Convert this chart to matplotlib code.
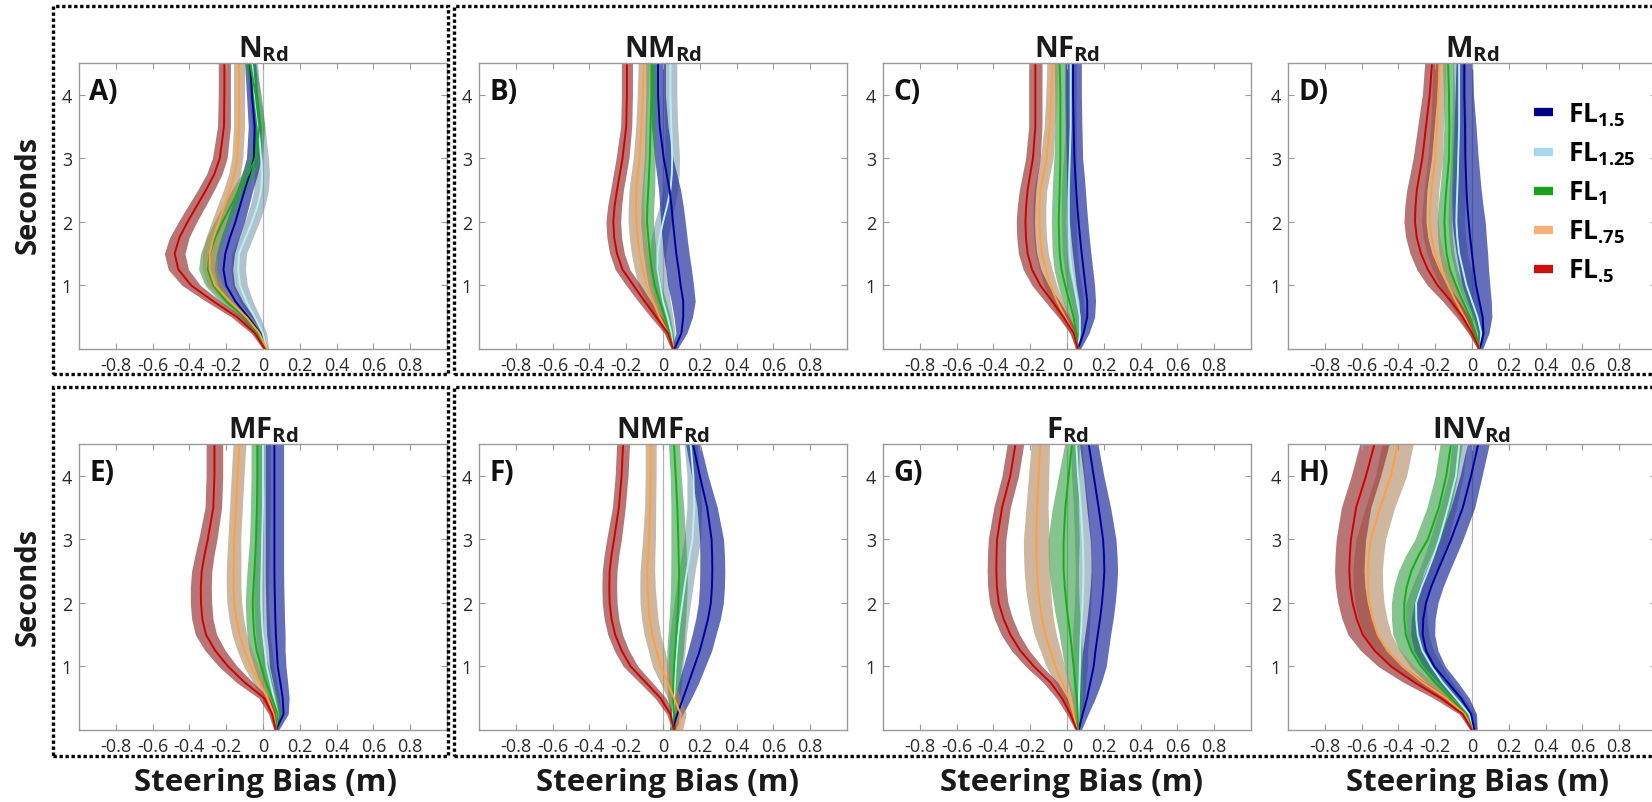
import matplotlib
matplotlib.use('Agg')
import matplotlib.pyplot as plt
from matplotlib.patches import Rectangle
from matplotlib.lines import Line2D
import numpy as np

plt.rcParams['font.family'] = ['Open Sans', 'DejaVu Sans']
plt.rcParams['mathtext.fontset'] = 'custom'
plt.rcParams['mathtext.rm'] = 'Open Sans'
plt.rcParams['mathtext.bf'] = 'Open Sans:bold'
plt.rcParams['mathtext.it'] = 'Open Sans:italic'

# ---------------- data ----------------
seconds = [0, 0.25, 0.5, 0.75, 1, 1.25, 1.5, 1.75, 2, 2.25, 2.5, 2.75, 3, 3.5, 4, 4.5]
series = ['1.5', '1.25', '1', '.75', '.5']
panel_titles = ['N', 'NM', 'NF', 'M', 'MF', 'NMF', 'F', 'INV']
panel_letters = ['A)', 'B)', 'C)', 'D)', 'E)', 'F)', 'G)', 'H)']
xticks = [-0.8, -0.6, -0.4, -0.2, 0, 0.2, 0.4, 0.6, 0.8]
xticklabels = ['-0.8', '-0.6', '-0.4', '-0.2', '0', '0.2', '0.4', '0.6', '0.8']
yticks = [1, 2, 3, 4]
yticklabels = ['1', '2', '3', '4']

# mean steering bias per feedback level (m)
N_mean = {
    '1.5':  [0.01, -0.015, -0.08, -0.15, -0.20, -0.215, -0.205, -0.18, -0.15, -0.125, -0.10, -0.072, -0.05, -0.045, -0.06, -0.07],
    '1.25': [0.02, 0.0, -0.045, -0.09, -0.125, -0.135, -0.13, -0.095, -0.06, -0.03, -0.01, -0.005, -0.01, -0.025, -0.045, -0.06],
    '1':    [0.01, -0.03, -0.10, -0.20, -0.27, -0.30, -0.29, -0.26, -0.22, -0.175, -0.13, -0.08, -0.04, -0.02, -0.04, -0.07],
    '.75':  [0.02, -0.02, -0.09, -0.18, -0.26, -0.29, -0.29, -0.27, -0.24, -0.21, -0.18, -0.155, -0.14, -0.13, -0.13, -0.13],
    '.5':   [0.01, -0.045, -0.14, -0.27, -0.39, -0.46, -0.48, -0.455, -0.41, -0.36, -0.31, -0.265, -0.235, -0.212, -0.21, -0.21],
}
NM_mean = {
    '1.5':  [0.063, 0.10, 0.11, 0.11, 0.096, 0.085, 0.072, 0.063, 0.054, 0.046, 0.036, 0.02, 0.004, -0.018, -0.027, -0.027],
    '1.25': [0.055, 0.045, 0.025, 0.0, -0.015, -0.03, -0.03, -0.018, 0.0, 0.022, 0.04, 0.048, 0.05, 0.045, 0.04, 0.04],
    '1':    [0.055, 0.035, 0.01, -0.018, -0.045, -0.06, -0.072, -0.08, -0.087, -0.085, -0.08, -0.076, -0.072, -0.068, -0.063, -0.063],
    '.75':  [0.055, 0.027, -0.018, -0.054, -0.09, -0.11, -0.127, -0.138, -0.145, -0.147, -0.145, -0.137, -0.127, -0.118, -0.11, -0.105],
    '.5':   [0.055, 0.027, -0.036, -0.10, -0.16, -0.22, -0.25, -0.265, -0.27, -0.263, -0.25, -0.235, -0.22, -0.20, -0.196, -0.196],
}
NF_mean = {
    '1.5':  [0.058, 0.09, 0.11, 0.11, 0.10, 0.09, 0.08, 0.071, 0.063, 0.056, 0.05, 0.045, 0.04, 0.036, 0.033, 0.033],
    '1.25': [0.06, 0.07, 0.07, 0.055, 0.04, 0.025, 0.015, 0.012, 0.01, 0.01, 0.01, 0.012, 0.015, 0.02, 0.02, 0.02],
    '1':    [0.058, 0.05, 0.036, 0.013, -0.01, -0.03, -0.04, -0.043, -0.045, -0.043, -0.04, -0.038, -0.036, -0.036, -0.036, -0.04],
    '.75':  [0.058, 0.036, -0.01, -0.054, -0.09, -0.115, -0.136, -0.146, -0.15, -0.15, -0.145, -0.128, -0.11, -0.094, -0.085, -0.08],
    '.5':   [0.058, 0.036, -0.018, -0.08, -0.145, -0.19, -0.214, -0.223, -0.226, -0.222, -0.214, -0.2, -0.185, -0.172, -0.172, -0.172],
}
M_mean = {
    '1.5':  [0.043, 0.062, 0.058, 0.04, 0.022, 0.01, 0.0, -0.01, -0.018, -0.025, -0.03, -0.033, -0.036, -0.038, -0.042, -0.042],
    '1.25': [0.045, 0.05, 0.03, 0.0, -0.03, -0.05, -0.07, -0.08, -0.085, -0.083, -0.08, -0.077, -0.075, -0.07, -0.07, -0.07],
    '1':    [0.04, 0.02, -0.01, -0.05, -0.087, -0.12, -0.138, -0.146, -0.15, -0.146, -0.14, -0.132, -0.125, -0.123, -0.125, -0.13],
    '.75':  [0.04, 0.0, -0.04, -0.087, -0.13, -0.17, -0.20, -0.22, -0.23, -0.227, -0.22, -0.21, -0.20, -0.19, -0.183, -0.177],
    '.5':   [0.04, 0.0, -0.05, -0.114, -0.187, -0.24, -0.277, -0.30, -0.31, -0.307, -0.30, -0.285, -0.27, -0.25, -0.23, -0.217],
}
MF_mean = {
    '1.5':  [0.07, 0.112, 0.107, 0.094, 0.08, 0.075, 0.07, 0.067, 0.065, 0.063, 0.062, 0.062, 0.062, 0.062, 0.062, 0.062],
    '1.25': [0.07, 0.08, 0.06, 0.04, 0.02, 0.01, 0.0, -0.006, -0.01, -0.01, -0.008, -0.006, -0.005, 0.0, 0.0, 0.0],
    '1':    [0.07, 0.08, 0.05, 0.016, -0.01, -0.035, -0.047, -0.053, -0.056, -0.052, -0.047, -0.042, -0.038, -0.033, -0.03, -0.03],
    '.75':  [0.07, 0.058, 0.025, -0.02, -0.065, -0.10, -0.128, -0.145, -0.156, -0.16, -0.16, -0.158, -0.156, -0.147, -0.138, -0.128],
    '.5':   [0.07, 0.05, 0.007, -0.10, -0.19, -0.26, -0.31, -0.33, -0.337, -0.338, -0.333, -0.318, -0.30, -0.27, -0.264, -0.264],
}
NMF_mean = {
    '1.5':  [0.05, 0.078, 0.109, 0.14, 0.17, 0.20, 0.223, 0.245, 0.26, 0.266, 0.268, 0.267, 0.264, 0.24, 0.20, 0.163],
    '1.25': [0.05, 0.055, 0.06, 0.065, 0.069, 0.075, 0.083, 0.093, 0.105, 0.117, 0.13, 0.145, 0.16, 0.17, 0.165, 0.15],
    '1':    [0.05, 0.06, 0.054, 0.056, 0.06, 0.066, 0.072, 0.078, 0.083, 0.086, 0.087, 0.085, 0.083, 0.078, 0.069, 0.06],
    '.75':  [0.087, 0.096, 0.06, 0.024, -0.013, -0.035, -0.058, -0.072, -0.08, -0.084, -0.085, -0.081, -0.076, -0.07, -0.067, -0.067],
    '.5':   [0.06, 0.04, -0.013, -0.094, -0.176, -0.225, -0.26, -0.28, -0.29, -0.292, -0.29, -0.28, -0.266, -0.24, -0.225, -0.217],
}
F_mean = {
    '1.5':  [0.063, 0.085, 0.109, 0.127, 0.145, 0.155, 0.167, 0.18, 0.19, 0.198, 0.203, 0.201, 0.196, 0.172, 0.145, 0.118],
    '1.25': [0.06, 0.063, 0.065, 0.068, 0.07, 0.072, 0.075, 0.08, 0.085, 0.088, 0.09, 0.088, 0.085, 0.075, 0.06, 0.05],
    '1':    [0.06, 0.058, 0.054, 0.045, 0.036, 0.027, 0.018, 0.006, -0.004, -0.012, -0.018, -0.019, -0.018, -0.009, 0.009, 0.027],
    '.75':  [0.054, 0.036, 0.009, -0.027, -0.063, -0.09, -0.118, -0.136, -0.149, -0.158, -0.163, -0.166, -0.167, -0.163, -0.154, -0.145],
    '.5':   [0.054, 0.018, -0.027, -0.09, -0.18, -0.254, -0.308, -0.345, -0.371, -0.381, -0.384, -0.383, -0.38, -0.353, -0.308, -0.28],
}
INV_mean = {
    '1.5':  [0.013, -0.005, -0.06, -0.132, -0.205, -0.25, -0.268, -0.265, -0.25, -0.222, -0.187, -0.15, -0.114, -0.05, -0.005, 0.034],
    '1.25': [0.013, -0.015, -0.087, -0.16, -0.22, -0.27, -0.295, -0.303, -0.304, -0.275, -0.24, -0.208, -0.178, -0.13, -0.087, -0.069],
    '1':    [0.0, -0.03, -0.114, -0.2, -0.277, -0.33, -0.36, -0.368, -0.368, -0.355, -0.33, -0.29, -0.24, -0.18, -0.14, -0.114],
    '.75':  [0.0, -0.04, -0.14, -0.268, -0.377, -0.46, -0.513, -0.54, -0.558, -0.565, -0.567, -0.56, -0.55, -0.5, -0.44, -0.404],
    '.5':   [0.0, -0.05, -0.168, -0.313, -0.44, -0.53, -0.594, -0.627, -0.649, -0.662, -0.667, -0.664, -0.658, -0.63, -0.576, -0.53],
}

# half-width of the shaded confidence band (m)
N_half = {
    '1.5':  [0.01, 0.02, 0.03, 0.04, 0.045, 0.05, 0.05, 0.05, 0.05, 0.048, 0.045, 0.042, 0.04, 0.035, 0.03, 0.03],
    '1.25': [0.01, 0.02, 0.03, 0.035, 0.04, 0.04, 0.04, 0.04, 0.04, 0.04, 0.04, 0.04, 0.04, 0.035, 0.03, 0.03],
    '1':    [0.01, 0.015, 0.025, 0.035, 0.045, 0.05, 0.05, 0.048, 0.045, 0.042, 0.04, 0.038, 0.035, 0.03, 0.03, 0.03],
    '.75':  [0.01, 0.02, 0.03, 0.035, 0.04, 0.04, 0.04, 0.04, 0.04, 0.038, 0.035, 0.032, 0.03, 0.03, 0.03, 0.03],
    '.5':   [0.01, 0.02, 0.03, 0.04, 0.05, 0.055, 0.056, 0.053, 0.05, 0.048, 0.045, 0.042, 0.04, 0.035, 0.033, 0.033],
}
NM_half = {
    '1.5':  [0.015, 0.03, 0.05, 0.065, 0.07, 0.07, 0.07, 0.068, 0.067, 0.064, 0.06, 0.055, 0.05, 0.045, 0.04, 0.04],
    '1.25': [0.01, 0.02, 0.03, 0.04, 0.045, 0.045, 0.045, 0.045, 0.045, 0.042, 0.04, 0.04, 0.04, 0.035, 0.035, 0.035],
    '1':    [0.01, 0.02, 0.03, 0.035, 0.035, 0.035, 0.035, 0.035, 0.035, 0.035, 0.035, 0.032, 0.03, 0.03, 0.03, 0.03],
    '.75':  [0.01, 0.02, 0.03, 0.04, 0.045, 0.045, 0.045, 0.045, 0.045, 0.042, 0.04, 0.037, 0.035, 0.03, 0.03, 0.03],
    '.5':   [0.01, 0.02, 0.03, 0.035, 0.04, 0.04, 0.04, 0.04, 0.04, 0.038, 0.035, 0.035, 0.035, 0.03, 0.03, 0.03],
}
NF_half = {
    '1.5':  [0.015, 0.03, 0.04, 0.045, 0.05, 0.05, 0.05, 0.05, 0.05, 0.05, 0.05, 0.048, 0.045, 0.045, 0.045, 0.045],
    '1.25': [0.01, 0.02, 0.03, 0.035, 0.04, 0.04, 0.04, 0.04, 0.04, 0.04, 0.04, 0.038, 0.035, 0.03, 0.03, 0.03],
    '1':    [0.01, 0.02, 0.03, 0.035, 0.04, 0.04, 0.04, 0.04, 0.04, 0.04, 0.04, 0.038, 0.035, 0.03, 0.03, 0.03],
    '.75':  [0.01, 0.02, 0.03, 0.035, 0.035, 0.035, 0.035, 0.035, 0.035, 0.035, 0.035, 0.035, 0.035, 0.03, 0.03, 0.03],
    '.5':   [0.01, 0.02, 0.03, 0.04, 0.045, 0.048, 0.05, 0.05, 0.05, 0.048, 0.045, 0.042, 0.04, 0.036, 0.036, 0.036],
}
M_half = {
    '1.5':  [0.015, 0.03, 0.05, 0.065, 0.075, 0.08, 0.085, 0.088, 0.09, 0.085, 0.08, 0.075, 0.07, 0.06, 0.05, 0.045],
    '1.25': [0.01, 0.02, 0.03, 0.04, 0.045, 0.045, 0.045, 0.045, 0.045, 0.045, 0.045, 0.042, 0.04, 0.04, 0.035, 0.035],
    '1':    [0.01, 0.02, 0.03, 0.035, 0.04, 0.04, 0.04, 0.04, 0.04, 0.038, 0.035, 0.035, 0.035, 0.03, 0.03, 0.03],
    '.75':  [0.01, 0.02, 0.03, 0.04, 0.045, 0.045, 0.045, 0.045, 0.045, 0.042, 0.04, 0.04, 0.04, 0.035, 0.035, 0.035],
    '.5':   [0.01, 0.02, 0.035, 0.045, 0.055, 0.06, 0.06, 0.06, 0.06, 0.058, 0.055, 0.052, 0.05, 0.045, 0.04, 0.04],
}
MF_half = {
    '1.5':  [0.015, 0.025, 0.035, 0.04, 0.045, 0.045, 0.05, 0.05, 0.05, 0.05, 0.05, 0.05, 0.05, 0.05, 0.05, 0.05],
    '1.25': [0.01, 0.02, 0.03, 0.035, 0.04, 0.04, 0.04, 0.04, 0.04, 0.04, 0.04, 0.04, 0.04, 0.04, 0.04, 0.04],
    '1':    [0.01, 0.02, 0.03, 0.035, 0.04, 0.04, 0.04, 0.04, 0.04, 0.04, 0.04, 0.038, 0.035, 0.035, 0.035, 0.035],
    '.75':  [0.01, 0.02, 0.03, 0.035, 0.04, 0.04, 0.04, 0.04, 0.04, 0.04, 0.04, 0.038, 0.035, 0.035, 0.035, 0.035],
    '.5':   [0.01, 0.02, 0.03, 0.045, 0.05, 0.055, 0.058, 0.058, 0.058, 0.057, 0.055, 0.052, 0.05, 0.045, 0.045, 0.045],
}
NMF_half = {
    '1.5':  [0.015, 0.03, 0.045, 0.055, 0.06, 0.065, 0.065, 0.067, 0.068, 0.068, 0.068, 0.067, 0.065, 0.055, 0.045, 0.04],
    '1.25': [0.01, 0.02, 0.03, 0.035, 0.04, 0.045, 0.045, 0.045, 0.045, 0.045, 0.045, 0.045, 0.045, 0.04, 0.035, 0.035],
    '1':    [0.01, 0.02, 0.03, 0.035, 0.04, 0.045, 0.045, 0.045, 0.045, 0.045, 0.045, 0.042, 0.04, 0.035, 0.03, 0.03],
    '.75':  [0.02, 0.03, 0.035, 0.04, 0.045, 0.045, 0.045, 0.045, 0.045, 0.042, 0.04, 0.037, 0.035, 0.03, 0.03, 0.03],
    '.5':   [0.01, 0.02, 0.03, 0.035, 0.04, 0.04, 0.04, 0.04, 0.04, 0.04, 0.04, 0.04, 0.04, 0.035, 0.035, 0.035],
}
F_half = {
    '1.5':  [0.015, 0.03, 0.045, 0.06, 0.068, 0.07, 0.07, 0.071, 0.072, 0.072, 0.072, 0.071, 0.07, 0.065, 0.055, 0.05],
    '1.25': [0.01, 0.02, 0.03, 0.035, 0.04, 0.04, 0.045, 0.045, 0.045, 0.045, 0.045, 0.045, 0.045, 0.04, 0.035, 0.03],
    '1':    [0.01, 0.02, 0.03, 0.04, 0.05, 0.055, 0.06, 0.065, 0.07, 0.075, 0.08, 0.083, 0.085, 0.07, 0.055, 0.04],
    '.75':  [0.01, 0.02, 0.03, 0.04, 0.05, 0.055, 0.06, 0.062, 0.065, 0.068, 0.07, 0.07, 0.07, 0.06, 0.055, 0.05],
    '.5':   [0.01, 0.02, 0.03, 0.04, 0.045, 0.048, 0.05, 0.05, 0.05, 0.05, 0.05, 0.049, 0.048, 0.045, 0.045, 0.045],
}
INV_half = {
    '1.5':  [0.015, 0.03, 0.045, 0.055, 0.06, 0.065, 0.065, 0.065, 0.065, 0.065, 0.065, 0.065, 0.065, 0.065, 0.06, 0.06],
    '1.25': [0.015, 0.03, 0.045, 0.055, 0.06, 0.06, 0.06, 0.058, 0.055, 0.052, 0.05, 0.05, 0.05, 0.045, 0.04, 0.04],
    '1':    [0.01, 0.02, 0.035, 0.05, 0.06, 0.065, 0.07, 0.07, 0.07, 0.07, 0.07, 0.07, 0.07, 0.065, 0.06, 0.06],
    '.75':  [0.01, 0.02, 0.04, 0.055, 0.065, 0.07, 0.075, 0.078, 0.08, 0.08, 0.08, 0.08, 0.08, 0.08, 0.085, 0.085],
    '.5':   [0.01, 0.02, 0.04, 0.06, 0.07, 0.075, 0.08, 0.08, 0.08, 0.08, 0.08, 0.08, 0.08, 0.08, 0.08, 0.08],
}

panel_means = [N_mean, NM_mean, NF_mean, M_mean, MF_mean, NMF_mean, F_mean, INV_mean]
panel_halves = [N_half, NM_half, NF_half, M_half, MF_half, NMF_half, F_half, INV_half]

# ---------------- styles ----------------
line_colors = {'1.5': '#00009a', '1.25': '#b4f0f4', '1': '#12b012', '.75': '#ffa040', '.5': '#d00000'}
band_colors = {'1.5': '#1a2a9a', '1.25': '#7f9aaa', '1': '#2e9a3e', '.75': '#b08860', '.5': '#9a3a3a'}
band_alpha = {'1.5': 0.68, '1.25': 0.6, '1': 0.58, '.75': 0.6, '.5': 0.7}
legend_colors = {'1.5': '#00008b', '1.25': '#a8d8ea', '1': '#1aa01a', '.75': '#f4b07a', '.5': '#cc1010'}
draw_order = ['1.25', '1.5', '1', '.75', '.5']

W, H = 1652, 803
fig = plt.figure(figsize=(W / 100, H / 100), dpi=100)

col_left = [79, 479, 883, 1288]
row_top = [64, 445]
ax_w, ax_h = 368, 286


def fx(px):
    return px / W


def fy(py):
    return 1 - py / H


def sub_label(s):
    # leading dot: cancel the punctuation space mathtext adds after '.'
    body = s.replace('.', r'.\hspace{-0.2}') if s.startswith('.') else s
    return r'$\mathbf{FL}_{\mathbf{' + body + r'}}$'


for i in range(8):
    r, c = divmod(i, 4)
    ax = fig.add_axes([fx(col_left[c]), fy(row_top[r] + ax_h), ax_w / W, ax_h / H])
    means = panel_means[i]
    halves = panel_halves[i]
    ax.axvline(0, color='#b4b4b4', lw=0.9, zorder=0.5)
    for s in draw_order:
        m = np.array(means[s])
        h = np.array(halves[s])
        ax.fill_betweenx(seconds, m - h, m + h, color=band_colors[s], alpha=band_alpha[s], lw=0, zorder=1)
    for s in draw_order:
        ax.plot(means[s], seconds, color=line_colors[s], lw=1.4, zorder=2, solid_joinstyle='round')
    ax.set_xlim(-1, 1)
    ax.set_ylim(0, 4.5)
    ax.set_xticks(xticks)
    ax.set_xticklabels(xticklabels)
    ax.set_yticks(yticks)
    ax.set_yticklabels(yticklabels)
    ax.tick_params(direction='in', top=True, right=True, length=4, width=0.8,
                   color='#9a9a9a', labelsize=13, labelcolor='#2a2a2a', pad=5)
    for sp in ax.spines.values():
        sp.set_color('#9a9a9a')
        sp.set_linewidth(1.0)
    ax.set_title(r'$\mathbf{' + panel_titles[i] + r'}_{\mathbf{Rd}}$', fontsize=21, pad=5, color='#1a1a1a')
    ax.text(0.028, 0.95, panel_letters[i], transform=ax.transAxes, fontsize=20,
            fontweight='bold', va='top', ha='left', color='#111111')
    if i == 3:
        handles = [Line2D([], [], color=legend_colors[s], lw=6, solid_capstyle='butt') for s in series]
        labels = [sub_label(s) for s in series]
        ax.legend(handles, labels, loc='upper left', bbox_to_anchor=(0.64, 0.905), frameon=False,
                  fontsize=19, handlelength=0.7, handletextpad=0.6, labelspacing=0.45,
                  borderaxespad=0)

# dotted group boxes
box_style = dict(fill=False, ec='black', lw=2.4, ls=(0, (1, 0.8)), transform=fig.transFigure, clip_on=False)
for (x0, y0, x1, y1) in [(53, 7, 448, 375), (454, 7, 1660, 375), (53, 388, 448, 757), (454, 388, 1660, 757)]:
    fig.add_artist(Rectangle((fx(x0), fy(y1)), (x1 - x0) / W, (y1 - y0) / H, **box_style))

# axis labels
for yc in [195, 587]:
    fig.text(fx(28), fy(yc), 'Seconds', rotation=90, fontsize=21, fontweight='bold',
             ha='center', va='center', color='#1a1a1a')
for xc in [265, 668, 1072, 1477]:
    fig.text(fx(xc), fy(783), 'Steering Bias (m)', fontsize=22.5, fontweight='bold',
             ha='center', va='center', color='#1a1a1a')

fig.savefig('out.png', dpi=100)
